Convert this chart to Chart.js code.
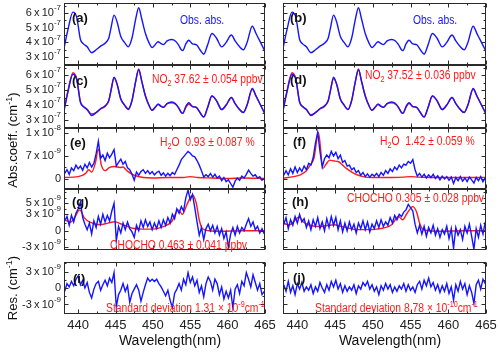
<!DOCTYPE html>
<html><head><meta charset="utf-8">
<script src="https://cdn.jsdelivr.net/npm/chart.js@4/dist/chart.umd.min.js"></script>
<style>
body{margin:0;background:#fff;}
#wrap{position:relative;width:500px;height:353px;overflow:hidden;background:#fff;font-family:"Liberation Sans",Arial,sans-serif;}
canvas{position:absolute;}
.t{position:absolute;white-space:nowrap;line-height:1;font-family:"Liberation Sans",Arial,sans-serif;}
.n{transform:scaleX(0.86);transform-origin:left top;}
.t sub{font-size:70%;vertical-align:-3px;line-height:0;}
.t sup{font-size:70%;vertical-align:5px;line-height:0;}
</style></head><body><div id="wrap"></div>
<script>
// ---------------- data ----------------
// smooth NO2 absorption (wavelength nm, value in 1e-7 cm^-1)
const obsWl  = [438.1,438.6,439.3,439.8,440.3,440.7,441.2,441.8,442.4,443.0,443.6,444.1,444.4,444.8,445.2,445.7,446.2,446.7,447.2,447.7,448.1,448.5,449.0,449.5,449.9,450.3,450.7,451.0,451.4,451.9,452.5,453.0,453.4,453.8,454.0,454.4,454.8,455.3,455.8,456.3,456.8,457.3,457.9,458.5,459.2,459.8,460.5,461.0,461.6,462.1,462.6,463.3,463.8,464.3,465.0];
const obsAbs = [3.6,4.8,6.05,5.7,4.2,3.9,3.7,3.3,3.5,3.75,3.95,4.3,5.0,5.85,5.4,4.4,4.0,3.7,4.3,5.6,6.35,5.6,4.6,3.95,3.65,3.85,4.05,3.95,3.85,4.1,4.2,4.1,3.85,3.5,3.45,3.9,4.15,3.9,3.85,3.5,3.2,3.8,4.6,4.3,3.7,4.0,4.5,4.1,3.7,3.5,4.0,5.1,4.6,4.1,3.4];
const no2FitL = [3.7,4.9,6.15,5.75,4.2,3.9,3.7,3.4,3.5,3.75,3.9,4.3,5.0,5.8,5.4,4.4,4.0,3.75,4.3,5.6,6.4,5.6,4.6,3.95,3.65,3.85,4.05,3.95,3.85,4.1,4.15,4.05,3.85,3.5,3.45,3.85,4.05,3.9,3.85,3.5,3.2,3.8,4.6,4.3,3.7,4.0,4.5,4.1,3.7,3.5,4.0,5.05,4.6,4.1,3.4];
const no2FitR = [3.7,4.9,6.15,5.75,4.2,3.9,3.7,3.35,3.5,3.75,3.9,4.3,5.0,5.75,5.4,4.4,4.0,3.7,4.3,5.6,6.4,5.6,4.6,3.95,3.65,3.85,4.05,3.95,3.85,4.1,4.15,4.05,3.85,3.5,3.45,3.85,4.1,3.9,3.85,3.5,3.2,3.8,4.6,4.3,3.7,4.0,4.5,4.1,3.7,3.5,4.0,5.05,4.6,4.1,3.4];

// common wavelength grid for the noisy spectra (nm)
const grid = [438.2,438.5,438.8,439.1,439.4,439.7,440.0,440.3,440.6,440.9,
441.2,441.5,441.8,442.1,442.4,442.7,443.0,443.3,443.6,443.9,
444.2,444.5,444.8,445.1,445.4,445.7,446.0,446.3,446.6,446.9,
447.2,447.5,447.8,448.1,448.4,448.7,449.0,449.3,449.6,449.9,
450.2,450.5,450.8,451.1,451.4,451.7,452.0,452.3,452.6,452.9,
453.2,453.5,453.8,454.1,454.4,454.7,455.0,455.3,455.6,455.9,
456.2,456.5,456.8,457.1,457.4,457.7,458.0,458.3,458.6,458.9,
459.2,459.5,459.8,460.1,460.4,460.7,461.0,461.3,461.6,461.9,
462.2,462.5,462.8,463.1,463.4,463.7,464.0,464.3,464.6,464.9];

// H2O panels (1e-9 cm^-1)
const h2oObsL = [1.2,2.0,1.0,2.4,1.8,3.0,2.2,2.8,1.9,3.2,2.4,3.6,2.6,3.4,5.5,8.2,4.5,5.2,4.0,5.6,4.6,5.4,6.4,2.8,3.6,4.3,3.2,3.8,2.4,2.0,1.0,-0.3,1.5,0.8,1.6,2.0,1.2,1.8,1.1,1.6,0.9,1.4,1.7,0.8,1.3,0.6,1.2,0.7,1.4,1.0,2.0,3.0,4.2,4.8,5.4,6.0,5.6,5.0,4.8,4.0,3.0,1.8,0.4,0.9,0.5,1.2,0.4,1.0,0.2,0.6,-0.4,0.3,-0.6,-0.2,-1.0,-1.8,-0.5,0.2,-0.3,0.6,0.2,1.0,1.9,1.2,0.6,0.9,0.2,0.5,-0.3,0.1];
const h2oFitWlL = [438.1,440.0,441.0,441.4,441.8,442.3,442.7,443.1,443.6,444.2,444.9,445.6,446.0,446.5,447.5,448.7,450.0,452.0,454.0,455.0,456.0,458.0,460.0,462.0,465.0];
const h2oFitL   = [0.3,0.5,1.2,2.0,1.5,3.5,6.5,3.0,1.8,2.5,2.7,2.5,2.6,1.8,0.8,0.3,0.2,0.3,0.3,0.5,0.3,0.2,0.1,0.2,0.1];
const h2oObsR = [0.8,1.8,0.9,2.2,1.2,2.6,1.4,2.4,1.6,2.8,2.0,3.4,3.0,4.6,7.8,10.2,6.0,2.6,4.4,5.2,4.6,6.0,5.0,5.8,4.4,5.2,3.6,4.0,2.8,3.0,2.0,2.4,1.4,1.8,0.8,1.4,0.5,1.1,0.4,1.0,0.6,1.2,0.5,1.4,0.8,1.8,1.2,2.2,1.6,2.6,2.0,3.0,2.4,3.2,3.0,3.8,3.4,4.2,2.0,0.6,1.2,0.4,1.0,0.2,0.9,0.3,1.0,0.1,0.7,-0.2,0.6,0.0,0.5,-0.3,0.4,-1.0,0.3,-0.4,0.5,-0.5,0.2,-0.6,0.4,-0.2,-0.9,0.3,-0.4,0.5,-0.6,0.2];
const h2oFitWlR = [438.1,439.5,440.4,441.2,441.7,442.2,442.8,443.4,443.8,444.3,444.9,445.4,446.0,446.5,447.5,448.7,450.0,452.0,454.0,455.0,456.0,458.0,460.0,462.0,465.0];
const h2oFitR   = [0.15,0.5,0.9,1.8,3.0,4.5,10.1,2.3,3.2,4.1,3.9,3.8,3.0,2.3,1.2,0.5,0.3,0.3,0.4,0.5,0.4,0.3,0.3,0.3,0.3];

// CHOCHO panels (1e-9 cm^-1)
const gloObsL = [1.8,2.6,1.0,2.8,1.6,3.2,4.0,5.2,2.4,1.2,0.2,1.4,-0.6,1.8,0.6,2.6,1.2,3.0,1.6,2.8,1.8,3.6,5.0,-1.8,0.8,-0.4,1.4,0.2,1.6,0.4,-0.2,-1.2,1.0,0.0,1.8,0.6,2.0,0.8,1.6,0.2,1.4,0.4,1.8,0.6,2.0,1.0,2.4,1.4,3.0,2.2,4.0,3.2,4.4,3.6,6.0,7.4,5.6,6.6,4.2,1.6,-0.8,0.6,-1.6,0.4,1.2,0.0,1.0,-0.4,0.8,-0.8,0.4,-1.4,-0.2,-3.0,-0.6,0.6,-0.8,0.8,-0.4,0.6,0.0,1.2,2.2,0.8,1.6,0.2,0.8,-0.4,0.4,-0.6];
const gloFitWl = [438.1,439.0,439.6,440.2,440.8,441.5,442.9,444.0,444.9,445.8,446.5,447.3,448.5,449.6,450.5,451.4,452.5,453.4,453.95,454.5,455.3,455.8,456.2,456.6,457.5,459.0,462.0,465.0];
const gloFitL  = [2.0,1.6,2.6,3.8,2.4,1.6,1.1,1.4,1.65,1.2,0.85,0.45,0.3,0.3,0.4,0.75,1.65,3.8,3.0,4.6,6.5,5.0,2.0,0.4,0.0,-0.1,0.0,0.0];
const gloFitR  = [1.3,1.1,1.8,2.5,1.6,1.1,0.75,0.95,1.1,0.8,0.6,0.3,0.2,0.2,0.3,0.5,1.1,2.6,2.0,3.1,4.4,3.4,1.4,0.3,0.0,-0.1,0.0,0.0];
const gloObsR = [1.2,2.4,0.4,2.0,1.0,2.6,1.4,3.0,1.6,2.2,0.6,1.8,0.2,2.0,0.8,2.4,0.4,1.6,0.0,2.2,0.6,2.6,1.0,2.4,0.2,1.8,-0.2,1.4,0.0,1.6,0.2,1.2,-0.4,1.4,0.4,1.8,0.2,1.6,-0.2,1.2,0.4,1.8,0.6,2.0,0.8,1.6,1.0,2.4,1.4,2.8,2.0,3.0,2.6,3.4,3.8,4.8,4.2,3.6,1.2,-0.4,1.0,-0.6,0.8,-1.0,0.6,-0.4,1.0,-0.8,0.4,-1.2,0.2,-0.6,0.8,-1.4,0.4,-3.2,0.6,-0.8,0.2,-1.6,0.8,-0.4,1.2,-1.0,-3.4,0.4,-1.2,1.0,-0.6,1.6];

// residuals (1e-9 cm^-1)
const resL = [-0.6,0.8,0.2,1.2,0.4,1.6,2.2,0.6,1.4,0.0,1.0,-0.8,-1.8,-0.2,0.8,1.2,-0.4,0.6,1.4,0.4,1.8,1.0,2.8,-3.4,-1.2,-0.4,0.8,-0.6,0.4,-2.6,-1.0,-0.2,0.6,-0.4,-2.4,-0.8,0.6,1.8,1.2,1.6,1.2,1.6,0.8,0.2,-0.6,-1.4,-0.4,-2.2,-3.6,-1.0,-0.2,0.8,-0.4,1.6,0.6,2.8,1.0,2.0,0.4,1.4,-0.8,0.4,-1.6,0.8,2.0,1.2,-0.4,1.6,0.8,-1.2,0.2,-2.0,-0.6,-1.8,-0.4,-3.6,-0.2,0.6,-1.0,1.2,0.4,2.8,1.6,0.2,2.4,1.0,-0.4,0.8,-1.2,-0.6];
const resR = [0.6,-0.6,1.2,-0.8,0.4,-1.2,0.8,-0.2,1.0,-0.6,0.2,-0.4,0.6,-1.0,0.2,-0.6,1.0,0.0,-0.8,0.6,-0.4,1.2,0.2,1.4,-0.2,0.8,-0.8,0.4,-0.6,0.2,-0.4,0.6,-1.0,0.4,-0.2,1.0,0.4,1.2,-0.2,0.6,-0.6,0.2,-1.2,0.4,-0.4,0.8,-0.2,0.6,-0.8,0.2,-0.6,0.4,-0.2,0.8,-0.6,0.6,-0.4,0.2,-0.8,0.6,1.2,-0.2,1.4,0.4,1.8,0.2,1.0,-0.4,0.6,-0.8,0.4,-0.6,0.8,-1.0,0.2,-2.2,0.6,-0.6,1.2,-0.2,0.8,-1.2,0.4,-0.8,-2.8,0.6,1.4,-0.2,1.6,0.8];

// axis ticks
const xMajor = [440,445,450,455,460,465];
const xMinor = [437.5,442.5,447.5,452.5,457.5,462.5];
const absTicks = [3,4,5,6];            // x1e-7
const absMinor = [2.5,3.5,4.5,5.5,6.5];
const h2oTicks = [0,5,10];             // x1e-9
const h2oMinor = [-2.5,2.5,7.5];
const gloTicks = [-3,0,3,5];
const gloMinor = [-1.5,1.5,4,6,7];
const resTicks = [-3,0,3];
const resMinor = [-1.5,1.5,4.5,-4.5];

// ---------------- drawing ----------------
const BLUE = '#1414ff', RED = '#ff1a1a';
const COL = { L:{canvasLeft:0,width:290,plotL:64,plotR:265}, R:{canvasLeft:270,width:230,plotL:283,plotR:486} };
const ROWS = { r1:[3,65], r2:[65,128], r3:[128,189], r4:[189,250], r5:[262,314] };
const TS = '\u2009';

function pts(xs, ys){ return xs.map((x,i)=>({x:x,y:ys[i]})); }

const panelPlugin = {
  id:'panel',
  afterDatasetsDraw(chart, args, o){
    const ctx = chart.ctx, a = chart.chartArea, xs = chart.scales.x, ys = chart.scales.y;
    const L = Math.round(a.left)+0.5, R = Math.round(a.right)-0.5, T = Math.round(a.top)+0.5, B = Math.round(a.bottom)-0.5;
    ctx.save();
    ctx.strokeStyle = '#2a2a2a'; ctx.lineWidth = 1;
    ctx.beginPath();
    const tick = (x1,y1,x2,y2)=>{ctx.moveTo(x1,y1);ctx.lineTo(x2,y2);};
    xMajor.concat(xMinor).forEach(v=>{
      if (v < xs.min || v > xs.max) return;
      const len = xMajor.includes(v) ? 4 : 2;
      const px = Math.round(xs.getPixelForValue(v))+0.5;
      tick(px,B,px,B-len); tick(px,T,px,T+len);
    });
    o.yMajor.concat(o.yMinor).forEach(v=>{
      if (v < ys.min || v > ys.max) return;
      const len = o.yMajor.includes(v) ? 4 : 2;
      const py = Math.round(ys.getPixelForValue(v))+0.5;
      tick(L,py,L+len,py); tick(R,py,R-len,py);
    });
    ctx.stroke();
    ctx.strokeRect(L,T,R-L,B-T);
    ctx.fillStyle = '#222';
    ctx.textBaseline = 'middle';
    if (o.yLabels){
      o.yLabels.forEach(([v,base,exp])=>{
        const py = ys.getPixelForValue(v);
        ctx.font = '11px "Liberation Sans", Arial, sans-serif';
        const wb = ctx.measureText(base).width;
        ctx.font = '8px "Liberation Sans", Arial, sans-serif';
        const we = exp ? ctx.measureText(exp).width : 0;
        const right = a.left - 3;
        ctx.font = '11px "Liberation Sans", Arial, sans-serif';
        ctx.textAlign = 'left';
        ctx.fillText(base, right - wb - we, py);
        if (exp){ ctx.font = '8px "Liberation Sans", Arial, sans-serif'; ctx.fillText(exp, right - we, py-5); }
      });
    }
    if (o.xLabels){
      ctx.font = '13px "Liberation Sans", Arial, sans-serif';
      ctx.textAlign = 'center';
      xMajor.forEach(v=>{ ctx.fillText(String(v), xs.getPixelForValue(v), a.bottom + 11); });
    }
    ctx.restore();
  }
};

function sci(v, m, e){ return [v, m + TS + 'x' + TS + '10', e]; }

const panels = [
  {col:'L', row:'r1', ymin:2.47, ymax:6.67, yMajor:absTicks, yMinor:absMinor,
   yLabels:absTicks.map(v=>sci(v,v,'-7')), series:[{d:pts(obsWl,obsAbs),c:BLUE,smooth:true}]},
  {col:'R', row:'r1', ymin:2.47, ymax:6.67, yMajor:absTicks, yMinor:absMinor,
   series:[{d:pts(obsWl,obsAbs),c:BLUE,smooth:true}]},
  {col:'L', row:'r2', ymin:2.47, ymax:6.67, yMajor:absTicks, yMinor:absMinor,
   yLabels:absTicks.map(v=>sci(v,v,'-7')),
   series:[{d:pts(obsWl,obsAbs),c:BLUE,smooth:true},{d:pts(obsWl,no2FitL),c:RED,smooth:true}]},
  {col:'R', row:'r2', ymin:2.47, ymax:6.67, yMajor:absTicks, yMinor:absMinor,
   series:[{d:pts(obsWl,obsAbs),c:BLUE,smooth:true},{d:pts(obsWl,no2FitR),c:RED,smooth:true}]},
  {col:'L', row:'r3', ymin:-2.2, ymax:11.1, yMajor:h2oTicks, yMinor:h2oMinor,
   yLabels:[[0,'0',''],sci(5,7,'-9'),sci(10,1,'-8')],
   series:[{d:pts(grid,h2oObsL),c:BLUE},{d:pts(h2oFitWlL,h2oFitL),c:RED,smooth:true}]},
  {col:'R', row:'r3', ymin:-2.2, ymax:11.1, yMajor:h2oTicks, yMinor:h2oMinor,
   series:[{d:pts(grid,h2oObsR),c:BLUE},{d:pts(h2oFitWlR,h2oFitR),c:RED,smooth:true}]},
  {col:'L', row:'r4', ymin:-3.5, ymax:7.6, yMajor:gloTicks, yMinor:gloMinor,
   yLabels:[sci(5,5,'-9'),sci(3,3,'-9'),[0,'0',''],sci(-3,-3,'-9')],
   series:[{d:pts(grid,gloObsL),c:BLUE},{d:pts(gloFitWl,gloFitL),c:RED,smooth:true}]},
  {col:'R', row:'r4', ymin:-3.5, ymax:7.6, yMajor:gloTicks, yMinor:gloMinor,
   series:[{d:pts(grid,gloObsR),c:BLUE},{d:pts(gloFitWl,gloFitR),c:RED,smooth:true}]},
  {col:'L', row:'r5', ymin:-4.73, ymax:4.73, yMajor:resTicks, yMinor:resMinor, xLabels:true,
   yLabels:[sci(3,3,'-9'),[0,'0',''],sci(-3,-3,'-9')],
   series:[{d:pts(grid,resL),c:BLUE}]},
  {col:'R', row:'r5', ymin:-4.73, ymax:4.73, yMajor:resTicks, yMinor:resMinor, xLabels:true,
   series:[{d:pts(grid,resR),c:BLUE}]}
];

const wrap = document.getElementById('wrap');
panels.forEach(p=>{
  const c = COL[p.col], r = ROWS[p.row];
  const padT = 6, padB = p.xLabels ? 26 : 6;
  const cv = document.createElement('canvas');
  const h = (r[1]-r[0]) + padT + padB;
  cv.width = c.width; cv.height = h;
  cv.style.left = c.canvasLeft+'px'; cv.style.top = (r[0]-padT)+'px';
  cv.style.width = c.width+'px'; cv.style.height = h+'px';
  wrap.appendChild(cv);
  new Chart(cv, {
    type:'line',
    data:{ datasets: p.series.map(s=>({
      data:s.d, borderColor:s.c, borderWidth:1.4, pointRadius:0, fill:false,
      cubicInterpolationMode: s.smooth ? 'monotone' : 'default', tension:0
    }))},
    options:{
      responsive:false, animation:false, devicePixelRatio:1,
      layout:{ padding:{ left:c.plotL - c.canvasLeft, right:c.canvasLeft + c.width - c.plotR, top:padT, bottom:padB } },
      plugins:{ legend:{display:false}, tooltip:{enabled:false}, panel:p },
      scales:{
        x:{ type:'linear', min:438.1, max:465, display:false },
        y:{ type:'linear', min:p.ymin, max:p.ymax, display:false }
      }
    },
    plugins:[panelPlugin]
  });
});

// ---------------- text annotations ----------------
const notes = [
  ['(a)',72,11,'#111',true],['(b)',290,11,'#111',true],
  ['(c)',72,74,'#111',true],['(d)',290,73,'#111',true],
  ['(e)',70,136,'#111',true],['(f)',293,135,'#111',true],
  ['(g)',72,195,'#111',true],['(h)',292,195,'#111',true],
  ['(i)',73,272,'#111',true],['(j)',293,271,'#111',true],
  ['Obs. abs.',180,14,BLUE],['Obs. abs.',413,14,BLUE],
  ['NO<sub>2</sub> 37.62 ± 0.054 ppbv',152,73,RED],['NO<sub>2</sub> 37.52 ± 0.036 ppbv',365,69,RED],
  ['H<sub>2</sub>O&nbsp; 0.93 ± 0.087 %',160,136,RED],['H<sub>2</sub>O&nbsp; 1.42 ± 0.059 %',380,135,RED],
  ['CHOCHO 0.463 ± 0.041 ppbv',110,239,RED],['CHOCHO 0.305 ± 0.028 ppbv',347,192,RED],
  ['Standard deviation 1.31 × 10<sup>-9</sup>cm<sup>-1</sup>',106,302,RED],
  ['Standard deviation 8.78 × 10<sup>-10</sup>cm<sup>-1</sup>',315,302,RED]
];
notes.forEach(([html,x,y,col,bold])=>{
  const d = document.createElement('div');
  d.className = bold ? 't' : 't n'; d.innerHTML = html;
  d.style.left = x+'px'; d.style.top = y+'px'; d.style.color = col;
  d.style.fontSize = bold ? '13px' : '12px';
  if (bold) d.style.fontWeight = 'bold';
  wrap.appendChild(d);
});
function vtitle(html, cx, cy){
  const d = document.createElement('div');
  d.className = 't'; d.innerHTML = html; d.style.fontSize = '13px'; d.style.color = '#111';
  d.style.left = cx+'px'; d.style.top = cy+'px';
  d.style.transform = 'translate(-50%,-50%) rotate(-90deg)';
  wrap.appendChild(d);
}
vtitle('Abs.coeff. (cm<sup>-1</sup>)', 12, 140);
vtitle('Res. (cm<sup>-1</sup>)', 12, 288);
function htitle(cx){
  const d = document.createElement('div');
  d.className = 't'; d.textContent = 'Wavelength(nm)'; d.style.fontSize = '14px'; d.style.color = '#111';
  d.style.left = cx+'px'; d.style.top = '333px'; d.style.transform = 'translateX(-50%)';
  wrap.appendChild(d);
}
htitle(170); htitle(390);
</script></body></html>
